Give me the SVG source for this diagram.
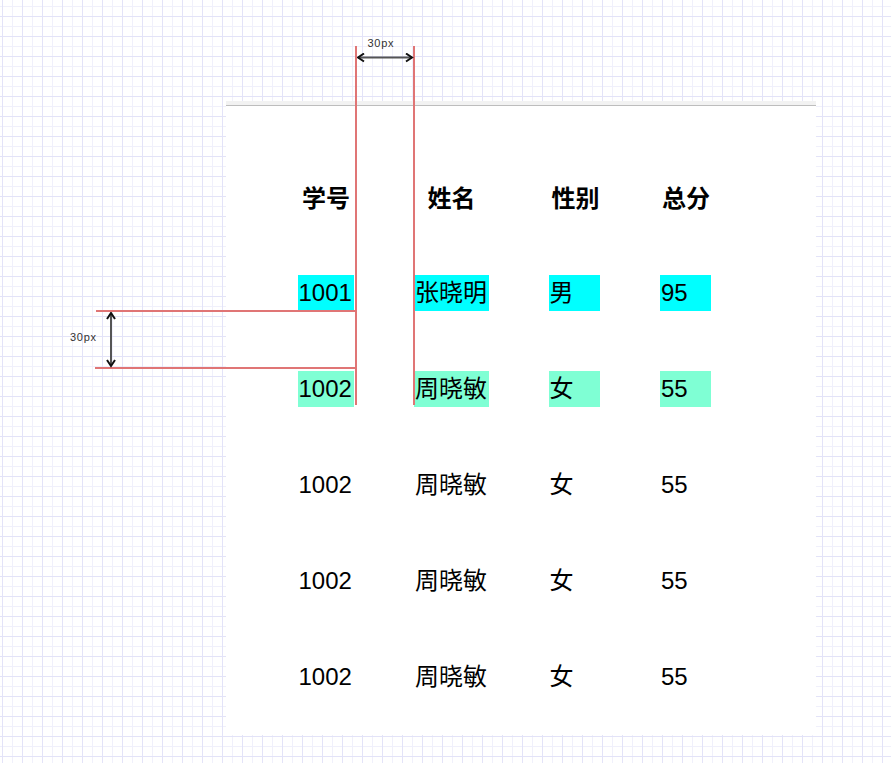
<svg xmlns="http://www.w3.org/2000/svg" width="891" height="763" viewBox="0 0 891 763">
<style>
.t{font-family:"Liberation Sans","Noto Sans CJK SC",sans-serif;font-size:24px;fill:#000}
.h{font-weight:bold}
.dim{font-family:"Liberation Sans",sans-serif;font-size:11px;fill:#333}
.red{stroke:#e07575;stroke-width:2;fill:none}
.stem{stroke:#555;stroke-width:2;fill:none}
.c1{fill:#00ffff}
.c2{fill:#7fffd4}
</style>
<defs>
<pattern id="grid" width="20" height="20" patternUnits="userSpaceOnUse" x="2" y="16">
<rect width="20" height="20" fill="#fff"/>
<path d="M10.5 0V20M0 10.5H20" stroke="#f0f0fb" stroke-width="1"/>
<path d="M0.5 0V20M0 0.5H20" stroke="#e3e3f8" stroke-width="1"/>
</pattern>
<marker id="ah" viewBox="0 0 10 10" refX="8.5" refY="5" markerWidth="10" markerHeight="10" markerUnits="userSpaceOnUse" orient="auto-start-reverse">
<path d="M2.5 1L8.5 5L2.5 9" fill="none" stroke="#111" stroke-width="2"/>
</marker>
</defs>
<rect width="891" height="763" fill="url(#grid)"/>
<g id="panel">
<rect x="226" y="101" width="590" height="634" fill="#fff"/>
<rect x="226" y="101" width="590" height="4" fill="#f2f2f2"/>
<rect x="226" y="105" width="590" height="1" fill="#bdbdbd"/>
</g>
<g id="header">
<text class="t h" x="302" y="207">学号</text>
<text class="t h" x="427.5" y="207">姓名</text>
<text class="t h" x="551.5" y="207">性别</text>
<text class="t h" x="662" y="207">总分</text>
</g>
<g id="row1">
<rect class="c1" x="298" y="275" width="56" height="36"/>
<rect class="c1" x="414" y="275" width="75" height="36"/>
<rect class="c1" x="549" y="275" width="51" height="36"/>
<rect class="c1" x="660" y="275" width="51" height="36"/>
<text class="t" x="298.5" y="301">1001</text>
<text class="t" x="415" y="301">张晓明</text>
<text class="t" x="549.5" y="301">男</text>
<text class="t" x="661" y="301">95</text>
</g>
<g id="row2">
<rect class="c2" x="298" y="371" width="56" height="36"/>
<rect class="c2" x="414" y="371" width="75" height="36"/>
<rect class="c2" x="549" y="371" width="51" height="36"/>
<rect class="c2" x="660" y="371" width="51" height="36"/>
<text class="t" x="298.5" y="397">1002</text>
<text class="t" x="415" y="397">周晓敏</text>
<text class="t" x="549.5" y="397">女</text>
<text class="t" x="661" y="397">55</text>
</g>
<g id="row3">
<text class="t" x="298.5" y="493">1002</text>
<text class="t" x="415" y="493">周晓敏</text>
<text class="t" x="549.5" y="493">女</text>
<text class="t" x="661" y="493">55</text>
</g>
<g id="row4">
<text class="t" x="298.5" y="589">1002</text>
<text class="t" x="415" y="589">周晓敏</text>
<text class="t" x="549.5" y="589">女</text>
<text class="t" x="661" y="589">55</text>
</g>
<g id="row5">
<text class="t" x="298.5" y="685">1002</text>
<text class="t" x="415" y="685">周晓敏</text>
<text class="t" x="549.5" y="685">女</text>
<text class="t" x="661" y="685">55</text>
</g>
<g id="connectors">
<path class="red" d="M356 46V405M414 46V405"/>
<path class="red" d="M96 311H356M95 368H356"/>
<path class="stem" d="M358 57.5H412" marker-start="url(#ah)" marker-end="url(#ah)"/>
<path class="stem" d="M111 313V366" marker-start="url(#ah)" marker-end="url(#ah)"/>
<text class="dim" x="367.5" y="47" textLength="26">30px</text>
<text class="dim" x="70" y="341" textLength="26">30px</text>
</g>
</svg>
